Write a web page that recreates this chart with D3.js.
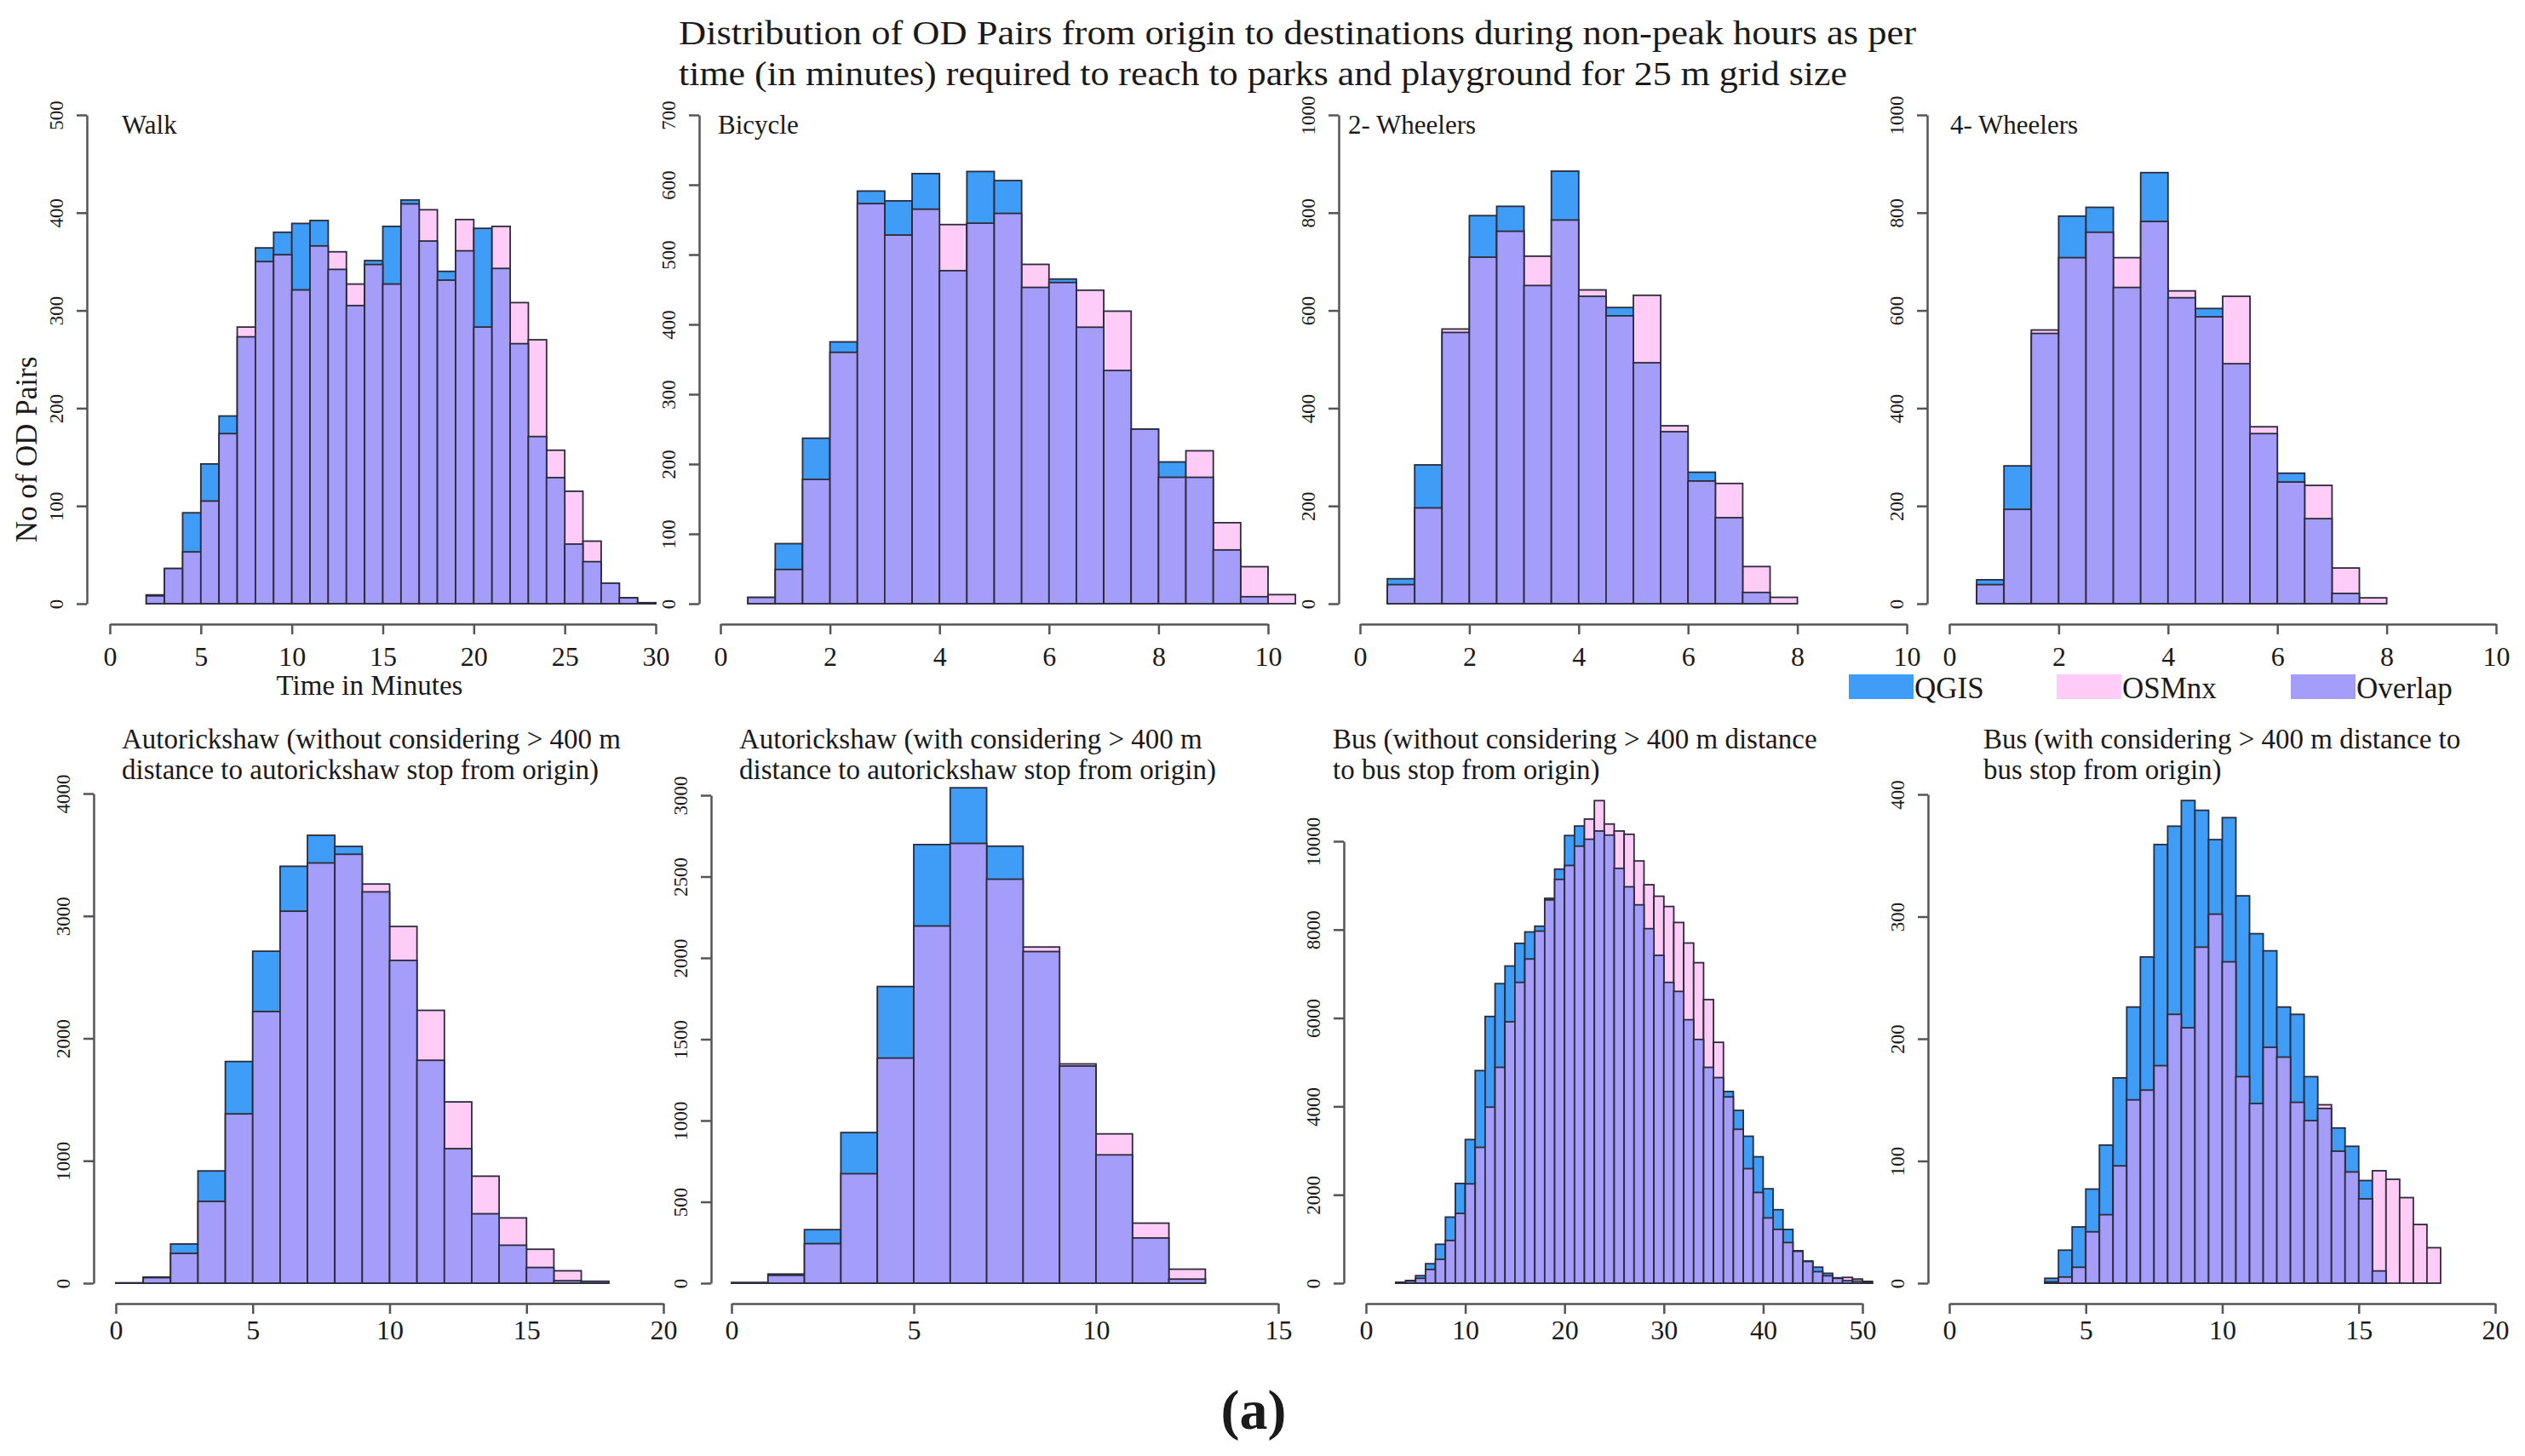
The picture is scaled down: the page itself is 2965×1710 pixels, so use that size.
<!DOCTYPE html>
<html>
<head>
<meta charset="utf-8">
<script src="https://cdn.jsdelivr.net/npm/d3@7"></script>
<style>
  body { margin: 0; background: #fff; }
  text { font-family: "Liberation Serif", "DejaVu Serif", serif; fill: #1a1a1a; }
</style>
</head>
<body>
<div id="chart"></div>
<script>
// bin counts (QGIS vs OSMnx), one value per bin
const walkStart = 2, walkWidth = 1;
const walkQgis = [9,36,93,143,192,273,364,380,389,392,342,305,351,386,413,371,340,361,384,343,266,171,129,61,43,21,6,1];
const walkOsm  = [8,36,53,105,174,283,350,357,321,366,360,327,347,327,409,403,331,393,283,386,308,270,157,115,64,21,6,1];

const bikeStart = 0.5, bikeWidth = 0.5;
const bikeQgis = [9,86,237,375,591,577,616,477,619,606,453,465,396,334,250,203,181,77,10,0];
const bikeOsm  = [9,49,178,360,573,528,565,543,545,559,486,460,449,419,250,181,219,116,53,13];

const twoStart = 0.5, twoWidth = 0.5;
const twoQgis = [51,284,555,794,813,651,885,629,606,493,352,269,176,23,0];
const twoOsm  = [39,196,562,709,762,711,785,642,589,631,364,251,246,76,13];

const fourStart = 0.5, fourWidth = 0.5;
const fourQgis = [49,282,553,793,811,647,882,626,604,491,348,267,174,21,0];
const fourOsm  = [39,193,560,708,760,708,782,640,587,629,362,249,242,73,12];

const autoAStart = 0, autoAWidth = 1;
const autoAQgis = [2,50,320,917,1811,2712,3406,3659,3568,3197,2637,1821,1099,567,310,128,20,15];
const autoAOsm  = [2,45,243,668,1383,2219,3039,3433,3504,3261,2914,2229,1481,874,533,277,101,15];

const autoBStart = 0, autoBWidth = 1;
const autoBQgis = [3,56,329,926,1824,2697,3046,2687,2039,1335,789,278,25];
const autoBOsm  = [3,48,243,673,1384,2196,2704,2484,2067,1348,918,369,86];

const busAStart = 3, busAWidth = 1;
const busAQgis = [20,60,170,440,880,1495,2256,3250,4810,6035,6778,7177,7688,7948,8078,8672,9369,10130,10344,10046,
  10232,10139,9387,8969,8561,8022,7419,6806,6602,5961,5515,4884,4652,4336,3909,3324,2860,2136,1662,1216,734,501,362,223,110,56,46,40];
const busAOsm  = [15,50,110,310,540,966,1578,2247,3073,3983,4884,5914,6806,7335,7967,8709,9136,9452,9889,10501,
  10919,10390,10232,10158,9554,9016,8756,8524,8162,7697,7252,6416,5450,4215,3482,2591,2052,1476,1216,919,720,490,260,167,121,130,93,30];

const busBStart = 3.5, busBWidth = 0.5;
const busBQgis = [4,27,46,77,113,168,226,267,359,374,395,387,363,381,317,286,272,226,220,169,143,127,112,84,10,0,0,0,0];
const busBOsm  = [1,5,13,42,56,96,150,158,178,220,209,275,302,263,169,147,193,185,148,133,146,108,91,69,92,85,70,48,29];

// axis ranges
const panelTitles = [
  ["Walk"], ["Bicycle"], ["2- Wheelers"], ["4- Wheelers"],
  ["Autorickshaw (without considering > 400 m", "distance to autorickshaw stop from origin)"],
  ["Autorickshaw (with considering > 400 m", "distance to autorickshaw stop from origin)"],
  ["Bus (without considering > 400 m distance", "to bus stop from origin)"],
  ["Bus (with considering > 400 m distance to", "bus stop from origin)"]
];
const xMaxes = [30, 10, 10, 10, 20, 15, 50, 20];
const xSteps = [5, 2, 2, 2, 5, 5, 10, 5];
const yMaxes = [500, 700, 1000, 1000, 4000, 3000, 10000, 400];
const ySteps = [100, 100, 200, 200, 1000, 500, 2000, 100];
const legendNames = ["QGIS", "OSMnx", "Overlap"];

const colors = { qgis: "#3f9cf7", osm: "#ffcbf7", overlap: "#a49df9" };

const width = 2965, height = 1710;

const svg = d3.select("#chart").append("svg")
  .attr("width", width).attr("height", height);

// layout of each panel (pixel frame)
const frames = [
  { left: 129,  right: 770,  yAxisX: 102,  base: 709,  top: 135, axisY: 733,  labelX: 143,  row: 0 },
  { left: 846,  right: 1489, yAxisX: 821,  base: 709,  top: 135, axisY: 733,  labelX: 843,  row: 0 },
  { left: 1597, right: 2239, yAxisX: 1572, base: 709,  top: 135, axisY: 733,  labelX: 1583, row: 0 },
  { left: 2289, right: 2931, yAxisX: 2263, base: 709,  top: 135, axisY: 733,  labelX: 2290, row: 0 },
  { left: 136,  right: 779,  yAxisX: 110,  base: 1507, top: 932, axisY: 1531, labelX: 143,  row: 1 },
  { left: 859,  right: 1501, yAxisX: 835,  base: 1507, top: 934, axisY: 1531, labelX: 868,  row: 1 },
  { left: 1604, right: 2187, yAxisX: 1578, base: 1507, top: 988, axisY: 1531, labelX: 1565, row: 1 },
  { left: 2289, right: 2930, yAxisX: 2264, base: 1507, top: 933, axisY: 1531, labelX: 2329, row: 1 }
];

const series = [
  [walkStart, walkWidth, walkQgis, walkOsm],
  [bikeStart, bikeWidth, bikeQgis, bikeOsm],
  [twoStart, twoWidth, twoQgis, twoOsm],
  [fourStart, fourWidth, fourQgis, fourOsm],
  [autoAStart, autoAWidth, autoAQgis, autoAOsm],
  [autoBStart, autoBWidth, autoBQgis, autoBOsm],
  [busAStart, busAWidth, busAQgis, busAOsm],
  [busBStart, busBWidth, busBQgis, busBOsm]
];

series.forEach(function (s, k) {
  const f = frames[k];
  const [start, bw, qgis, osm] = s;
  const x = d3.scaleLinear().domain([0, xMaxes[k]]).range([f.left, f.right]);
  const y = d3.scaleLinear().domain([0, yMaxes[k]]).range([f.base, f.top]);

  const bins = qgis.map((q, i) => ({ x0: start + i * bw, x1: start + (i + 1) * bw, q: q, o: osm[i] }));
  const g = svg.append("g");

  // taller of the two histograms
  g.selectAll(".tall").data(bins).enter().append("rect")
    .attr("x", d => x(d.x0))
    .attr("width", d => x(d.x1) - x(d.x0))
    .attr("y", d => y(Math.max(d.q, d.o)))
    .attr("height", d => y(0) - y(Math.max(d.q, d.o)))
    .attr("fill", d => d.q >= d.o ? colors.qgis : colors.osm)
    .attr("stroke", "#2b2b3a").attr("stroke-width", 1.8);

  // overlap part
  g.selectAll(".ovl").data(bins).enter().append("rect")
    .attr("x", d => x(d.x0))
    .attr("width", d => x(d.x1) - x(d.x0))
    .attr("y", d => y(Math.min(d.q, d.o)))
    .attr("height", d => y(0) - y(Math.min(d.q, d.o)))
    .attr("fill", colors.overlap)
    .attr("stroke", "#2b2b3a").attr("stroke-width", 1.8);

  // X axis
  const xAxis = d3.axisBottom(x)
    .tickValues(d3.range(0, xMaxes[k] + 0.001, xSteps[k]))
    .tickFormat(d3.format("d"))
    .tickSize(12).tickSizeOuter(0)
    .tickPadding(f.row === 0 ? 14 : 7);
  const gx = svg.append("g").attr("transform", `translate(0, ${f.axisY})`).call(xAxis);
  gx.select(".domain").attr("stroke", "#555").attr("stroke-width", 2.5);
  gx.selectAll(".tick line").attr("stroke", "#555").attr("stroke-width", 2.5);
  gx.selectAll("text").attr("font-size", 32).attr("font-family", "Liberation Serif").attr("fill", "#222");

  // Y axis
  const yAxis = d3.axisLeft(y)
    .tickValues(d3.range(0, yMaxes[k] + 0.001, ySteps[k]))
    .tickFormat(d3.format("d"))
    .tickSize(12).tickSizeOuter(0);
  const gy = svg.append("g").attr("transform", `translate(${f.yAxisX}, 0)`).call(yAxis);
  gy.select(".domain").attr("stroke", "#555").attr("stroke-width", 2.5);
  gy.selectAll(".tick line").attr("stroke", "#555").attr("stroke-width", 2.5);
  gy.selectAll("text")
    .attr("transform", "rotate(-90)")
    .attr("x", 0).attr("y", -36).attr("dy", "0.35em")
    .attr("text-anchor", "middle")
    .attr("font-size", 23)
    .attr("font-family", "Liberation Sans")
    .attr("fill", "#333");

  // panel label / title
  const lines = panelTitles[k];
  lines.forEach(function (t, j) {
    svg.append("text")
      .attr("x", f.labelX)
      .attr("y", f.row === 0 ? 157 : 879 + j * 36)
      .attr("font-size", f.row === 0 ? 31 : 33)
      .text(t);
  });
});

// axis titles (only first panel)
svg.append("text")
  .attr("transform", "rotate(-90)")
  .attr("x", -528).attr("y", 43)
  .attr("text-anchor", "middle")
  .attr("font-size", 35)
  .text("No of OD Pairs");

svg.append("text")
  .attr("x", 434).attr("y", 816)
  .attr("text-anchor", "middle")
  .attr("font-size", 33)
  .text("Time in Minutes");

// main title
svg.append("text")
  .attr("x", 797).attr("y", 52)
  .attr("font-size", 41)
  .attr("textLength", 1453).attr("lengthAdjust", "spacingAndGlyphs")
  .text("Distribution of OD Pairs from origin to destinations during non-peak hours as per");
svg.append("text")
  .attr("x", 797).attr("y", 100)
  .attr("font-size", 41)
  .attr("textLength", 1372).attr("lengthAdjust", "spacingAndGlyphs")
  .text("time (in minutes) required to reach to parks and playground for 25 m grid size");

// legend
const legendX = [2171, 2415, 2690];
const legendFill = [colors.qgis, colors.osm, colors.overlap];
const legend = svg.append("g");
legend.selectAll("rect").data(legendNames).enter().append("rect")
  .attr("x", (d, i) => legendX[i]).attr("y", 792)
  .attr("width", 76).attr("height", 29)
  .attr("fill", (d, i) => legendFill[i]);
legend.selectAll("text").data(legendNames).enter().append("text")
  .attr("x", (d, i) => legendX[i] + 77).attr("y", 820)
  .attr("font-size", 35)
  .text(d => d);

// figure tag
svg.append("text")
  .attr("x", 1472).attr("y", 1678)
  .attr("text-anchor", "middle")
  .attr("font-size", 66).attr("font-weight", "bold")
  .text("(a)");
</script>
</body>
</html>
